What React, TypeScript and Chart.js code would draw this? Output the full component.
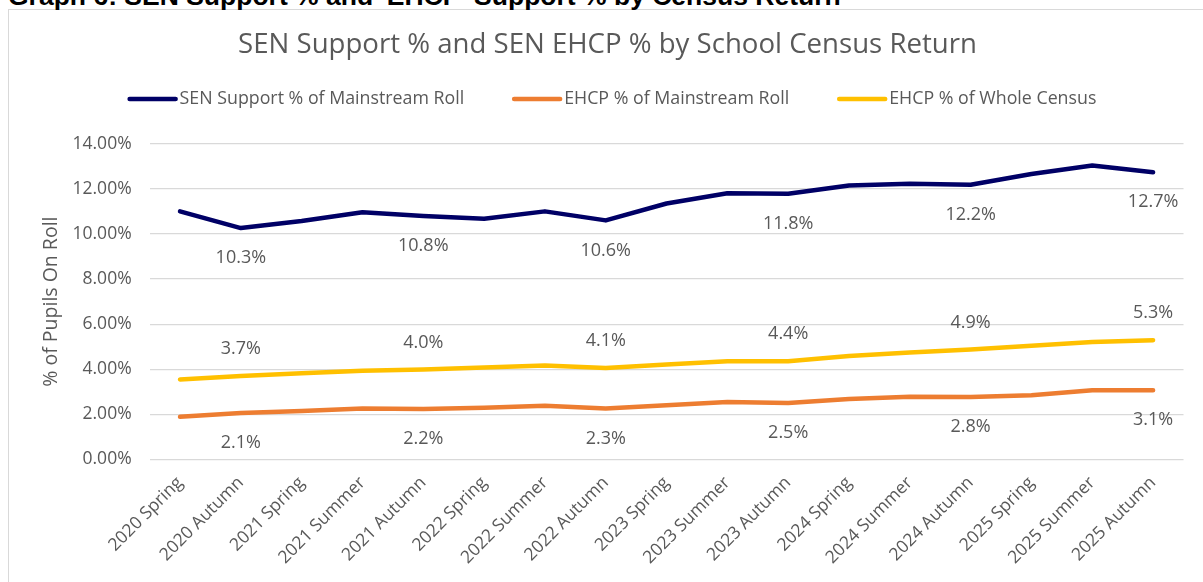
import React, { useEffect, useRef } from "react";
import { Chart, registerables } from "chart.js";

Chart.register(...registerables);

const categories = [
  "2020 Spring", "2020 Autumn", "2021 Spring", "2021 Summer", "2021 Autumn",
  "2022 Spring", "2022 Summer", "2022 Autumn", "2023 Spring", "2023 Summer",
  "2023 Autumn", "2024 Spring", "2024 Summer", "2024 Autumn", "2025 Spring",
  "2025 Summer", "2025 Autumn",
];
const senSupport = [11.0, 10.26, 10.57, 10.96, 10.8, 10.67, 11.0, 10.6, 11.35, 11.8, 11.78, 12.15, 12.22, 12.18, 12.66, 13.03, 12.73];
const ehcpMainstream = [1.89, 2.06, 2.15, 2.26, 2.24, 2.29, 2.38, 2.26, 2.4, 2.55, 2.5, 2.68, 2.78, 2.77, 2.85, 3.07, 3.07];
const ehcpWhole = [3.55, 3.7, 3.82, 3.93, 3.99, 4.08, 4.17, 4.06, 4.21, 4.36, 4.36, 4.59, 4.74, 4.88, 5.04, 5.21, 5.29];
const labelledIndices = [1, 4, 7, 10, 13, 16];
const yMin = 0;
const yMax = 14;
const yStep = 2;

const headerText = "Graph 6: SEN Support % and 'EHCP' Support % by Census Return";
const chartTitle = "SEN Support % and SEN EHCP % by School Census Return";
const axisTitle = "% of Pupils On Roll";

const GREY = "#595959";
const FONT = '"Open Sans", "Noto Sans", sans-serif';

const overlayPlugin = {
  id: "overlay",
  afterDraw(chart: any) {
    const ctx = chart.ctx as CanvasRenderingContext2D;
    ctx.save();
    // title
    ctx.fillStyle = GREY;
    ctx.font = `27.6px ${FONT}`;
    ctx.textAlign = "center";
    ctx.textBaseline = "middle";
    ctx.fillText(chartTitle, 607.5, 45.5);

    // legend
    ctx.font = `17.8px ${FONT}`;
    const lineLen = 50;
    const textGap = 2;
    const itemGap = 48;
    const ds = chart.data.datasets;
    const widths = ds.map((d: any) => lineLen + textGap + ctx.measureText(d.label).width);
    const total = widths.reduce((a: number, b: number) => a + b, 0) + itemGap * (ds.length - 1);
    let x = 612 - total / 2;
    const ly = 99;
    ds.forEach((d: any, i: number) => {
      ctx.strokeStyle = d.borderColor;
      ctx.lineWidth = 4.5;
      ctx.lineCap = "round";
      ctx.beginPath();
      ctx.moveTo(x + 2, ly);
      ctx.lineTo(x + lineLen - 2, ly);
      ctx.stroke();
      ctx.fillStyle = GREY;
      ctx.textAlign = "left";
      ctx.textBaseline = "middle";
      ctx.fillText(d.label, x + lineLen + textGap, ly);
      x += widths[i] + itemGap;
    });

    // data labels
    ctx.font = `18px ${FONT}`;
    ctx.textAlign = "center";
    ctx.textBaseline = "middle";
    ctx.fillStyle = GREY;
    ds.forEach((d: any, di: number) => {
      const meta = chart.getDatasetMeta(di);
      labelledIndices.forEach((i) => {
        const pt = meta.data[i];
        if (!pt) return;
        ctx.fillText(Number(d.data[i]).toFixed(1) + "%", pt.x, pt.y + d.labelOffset);
      });
    });
    ctx.restore();
  },
};

export default function App() {
  const canvasRef = useRef<HTMLCanvasElement | null>(null);

  useEffect(() => {
    if (!canvasRef.current) return;
    const chart = new Chart(canvasRef.current, {
      type: "line",
      data: {
        labels: categories,
        datasets: [
          {
            label: "SEN Support % of Mainstream Roll",
            data: senSupport,
            borderColor: "#000066",
            backgroundColor: "#000066",
            labelOffset: 30,
          } as any,
          {
            label: "EHCP % of Mainstream Roll",
            data: ehcpMainstream,
            borderColor: "#ED7D31",
            backgroundColor: "#ED7D31",
            labelOffset: 30,
          } as any,
          {
            label: "EHCP % of Whole Census",
            data: ehcpWhole,
            borderColor: "#FFC000",
            backgroundColor: "#FFC000",
            labelOffset: -27,
          } as any,
        ],
      },
      options: {
        animation: false,
        responsive: false,
        maintainAspectRatio: false,
        devicePixelRatio: 1,
        elements: {
          line: { borderWidth: 4.5, tension: 0, borderCapStyle: "round", borderJoinStyle: "round" },
          point: { radius: 0, hoverRadius: 0 },
        },
        layout: { padding: { top: 143.7, left: 0, right: 19.5, bottom: 0 } },
        plugins: {
          legend: { display: false },
          title: { display: false },
          tooltip: { enabled: false },
        },
        scales: {
          x: {
            type: "category",
            offset: true,
            grid: { display: false, drawTicks: false },
            border: { display: false },
            ticks: {
              autoSkip: false,
              maxRotation: 45,
              minRotation: 45,
              padding: 13,
              color: GREY,
              font: { family: FONT, size: 17.5 },
            },
            afterFit(scale: any) {
              scale.height = 122.5;
            },
          },
          y: {
            min: yMin,
            max: yMax,
            ticks: {
              stepSize: yStep,
              padding: 18,
              color: GREY,
              font: { family: FONT, size: 17.5 },
              callback: (v: any) => Number(v).toFixed(2) + "%",
            },
            grid: { color: "#d9d9d9", lineWidth: 1.2, drawTicks: false },
            border: { display: false },
            title: {
              display: true,
              text: axisTitle,
              color: GREY,
              font: { family: FONT, size: 19.5 },
              padding: { top: 40, bottom: 0 },
            },
            afterFit(scale: any) {
              scale.width = 149.6;
            },
          },
        },
      },
      plugins: [overlayPlugin],
    });
    return () => chart.destroy();
  }, []);

  return (
    <div style={{ position: "absolute", left: 0, top: 0, width: 1203, height: 582, overflow: "hidden", background: "#fff" }}>
      <div
        style={{
          position: "absolute",
          left: 8,
          top: 9,
          width: 1205,
          height: 600,
          border: "1px solid #d9d9d9",
          boxSizing: "border-box",
        }}
      />
      <div
        style={{
          position: "absolute",
          left: 8,
          top: -19,
          whiteSpace: "nowrap",
          fontFamily: '"Liberation Sans", Arial, sans-serif',
          fontWeight: "bold",
          fontSize: 26.5,
          lineHeight: "30px",
          color: "#000",
        }}
      >
        {headerText}
      </div>
      <canvas ref={canvasRef} width={1203} height={582} style={{ position: "absolute", left: 0, top: 0, width: 1203, height: 582 }} />
    </div>
  );
}
